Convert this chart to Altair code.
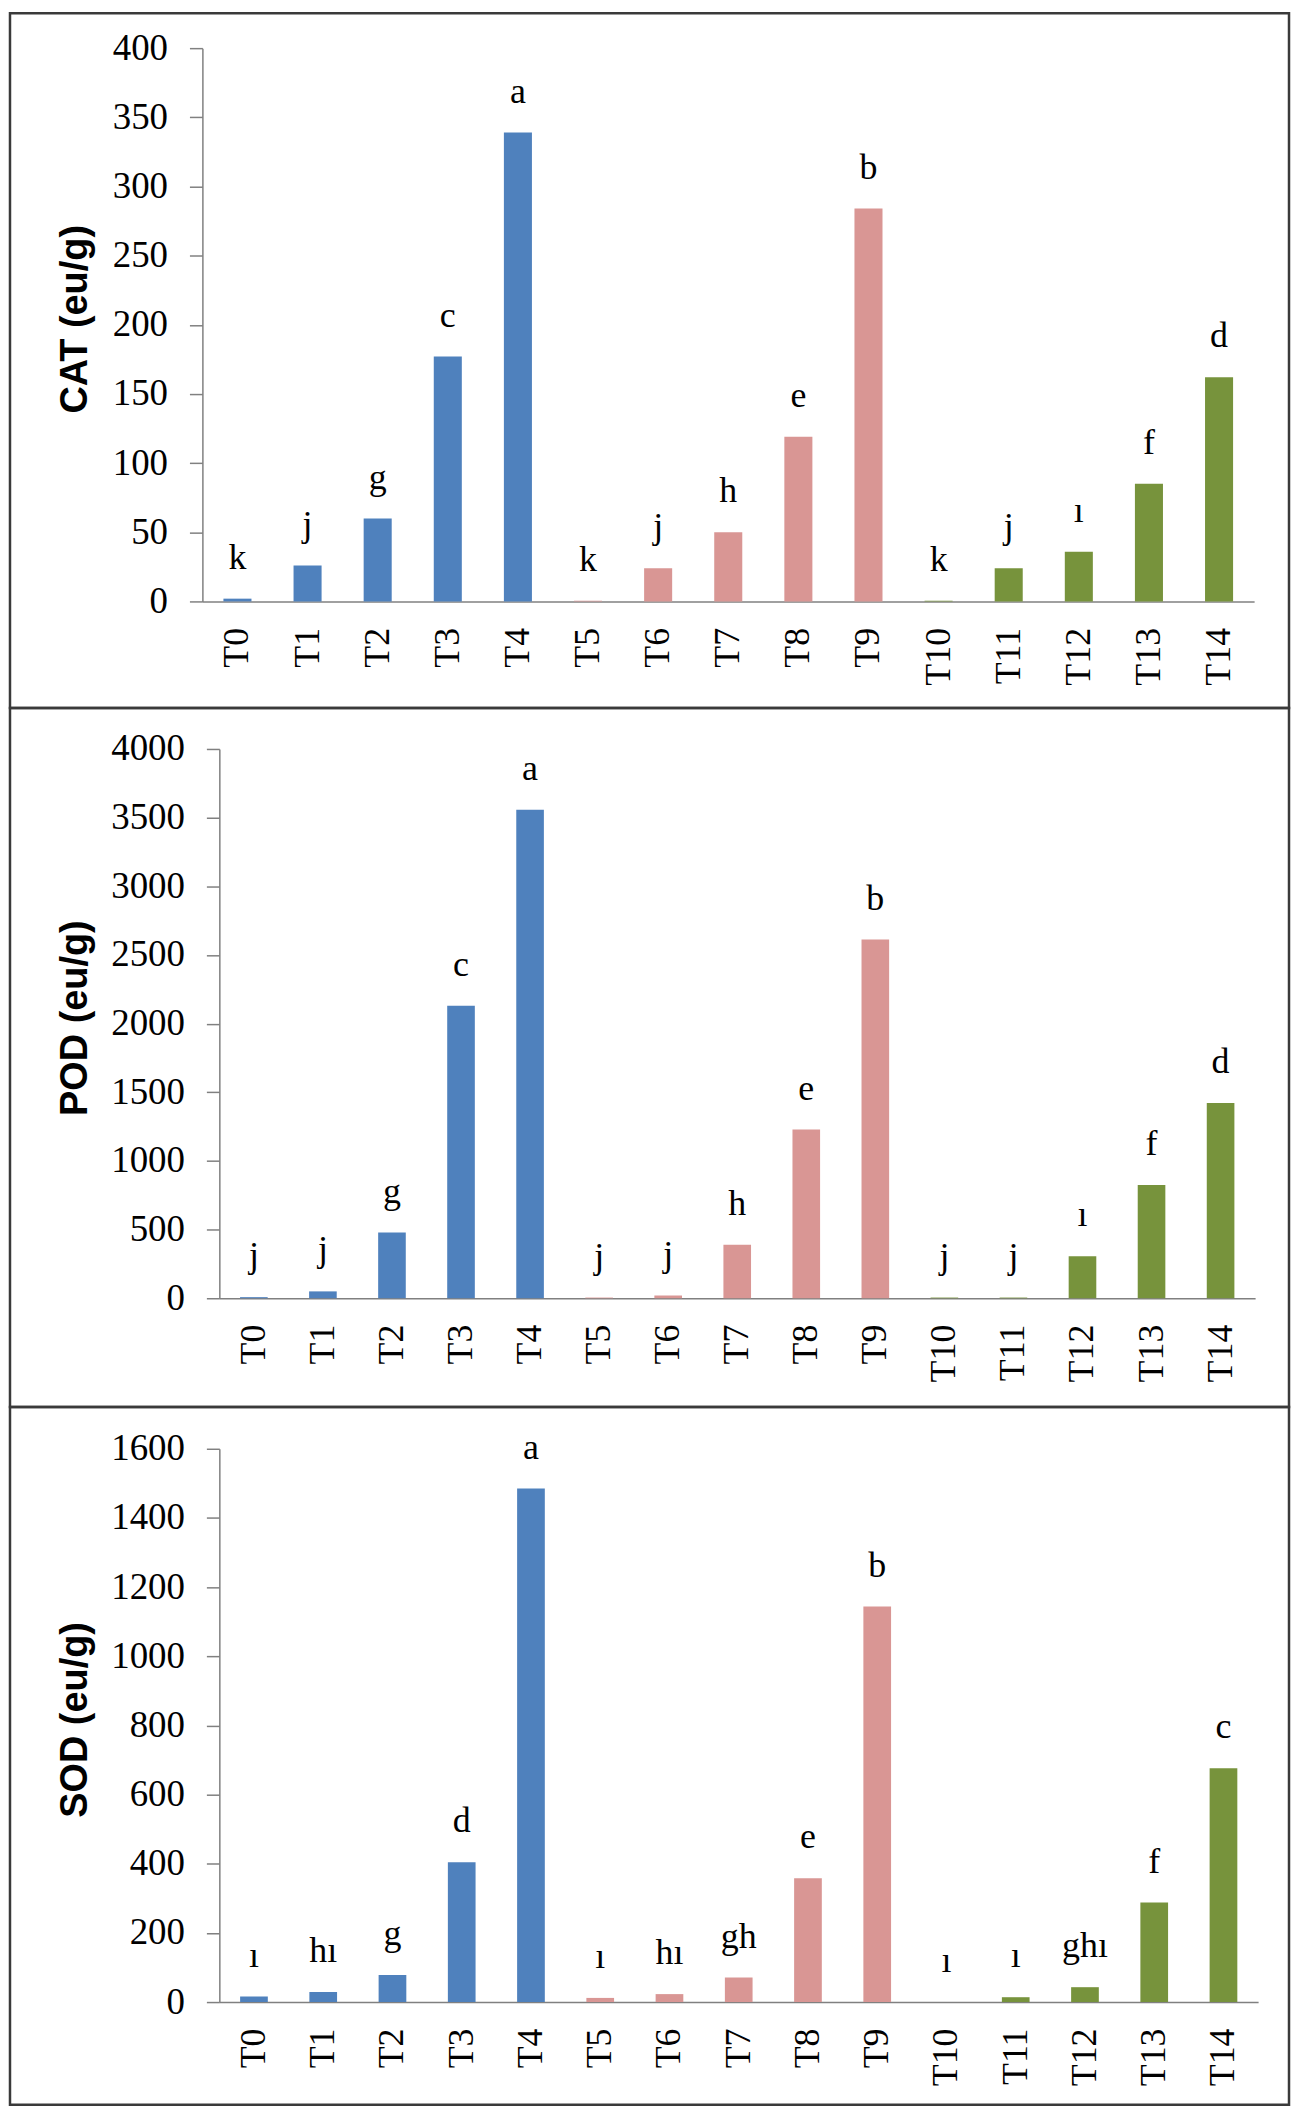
import altair as alt
import pandas as pd

# ---- data ----
treatments = ["T0", "T1", "T2", "T3", "T4", "T5", "T6", "T7", "T8", "T9",
              "T10", "T11", "T12", "T13", "T14"]
groups = ["G1", "G1", "G1", "G1", "G1", "G2", "G2", "G2", "G2", "G2",
          "G3", "G3", "G3", "G3", "G3"]
group_names = ["G1", "G2", "G3"]
group_colors = ["#4F81BD", "#D99694", "#77933C"]

cat_values = [2, 26, 60, 177, 339, 0.5, 24, 50, 119, 284, 0.5, 24, 36, 85, 162]
cat_letters = ["k", "j", "g", "c", "a", "k", "j", "h", "e", "b", "k", "j", "\u0131", "f", "d"]
cat_ticks = [0, 50, 100, 150, 200, 250, 300, 350, 400]

pod_values = [8, 50, 478, 2130, 3557, 5, 20, 390, 1229, 2613, 5, 5, 306, 825, 1421]
pod_letters = ["j", "j", "g", "c", "a", "j", "j", "h", "e", "b", "j", "j", "\u0131", "f", "d"]
pod_ticks = [0, 500, 1000, 1500, 2000, 2500, 3000, 3500, 4000]

sod_values = [16, 29, 78, 404, 1485, 12, 23, 71, 358, 1144, 0, 14, 43, 288, 676]
sod_letters = ["\u0131", "h\u0131", "g", "d", "a", "\u0131", "h\u0131", "gh", "e", "b",
               "\u0131", "\u0131", "gh\u0131", "f", "c"]
sod_ticks = [0, 200, 400, 600, 800, 1000, 1200, 1400, 1600]

AXIS_GRAY = "#808080"
SERIF = "Liberation Serif"
SANS = "Liberation Sans"
W = 1283


def panel(values, letters, ticks, title, height, x_range, y_range, title_x):
    df = pd.DataFrame({"T": treatments, "v": values, "lab": letters, "g": groups})
    zero_y = y_range[0]
    x = alt.X(
        "T:N", sort=treatments,
        scale=alt.Scale(range=x_range, paddingInner=0.6, paddingOuter=0.3),
        axis=alt.Axis(
            title=None, labelAngle=270, labelFont=SERIF, labelFontSize=36,
            labelColor="black", ticks=False, tickSize=0, labelPadding=26,
            domainColor=AXIS_GRAY, domainWidth=1.5, grid=False,
            offset=zero_y - height, labelOverlap=False,
        ),
    )
    y = alt.Y(
        "v:Q",
        scale=alt.Scale(domain=[ticks[0], ticks[-1]], range=y_range, nice=False, zero=True),
        axis=alt.Axis(
            title=title, values=ticks, format="d", grid=False, tickSize=13,
            tickColor=AXIS_GRAY, tickWidth=1.5, domainColor=AXIS_GRAY, domainWidth=1.5,
            labelFont=SERIF, labelFontSize=37, labelColor="black", labelPadding=22,
            titleFont=SANS, titleFontSize=38, titleFontWeight="bold", titleColor="black",
            titleX=title_x, titleY=(y_range[0] + y_range[1]) / 2 - 6,
            titleBaseline="middle", titleAngle=270,
            offset=-x_range[0],
        ),
    )
    bars = alt.Chart(df).mark_bar().encode(
        x=x, y=y,
        color=alt.Color("g:N", scale=alt.Scale(domain=group_names, range=group_colors), legend=None),
    )
    text = alt.Chart(df).mark_text(
        dy=-30, baseline="alphabetic", font=SERIF, fontSize=36, color="black"
    ).encode(x=x, y=y, text="lab:N")
    return alt.layer(bars, text).properties(width=W, height=height)


p1 = panel(cat_values, cat_letters, cat_ticks, "CAT (eu/g)", 697, [193, 1248], [590, 35], -127)
p2 = panel(pod_values, pod_letters, pod_ticks, "POD (eu/g)", 701, [210, 1249], [592, 41], -144)
p3 = panel(sod_values, sod_letters, sod_ticks, "SOD (eu/g)", 700, [210, 1252], [597, 42], -144)

chart = alt.vconcat(p1, p2, p3, spacing=0, bounds="flush").properties(
    padding=0, background="white"
).configure_view(
    stroke="#3a3a3a", strokeWidth=2.5
)

chart.save("out.html", embed_options={"renderer": "svg", "actions": False})
